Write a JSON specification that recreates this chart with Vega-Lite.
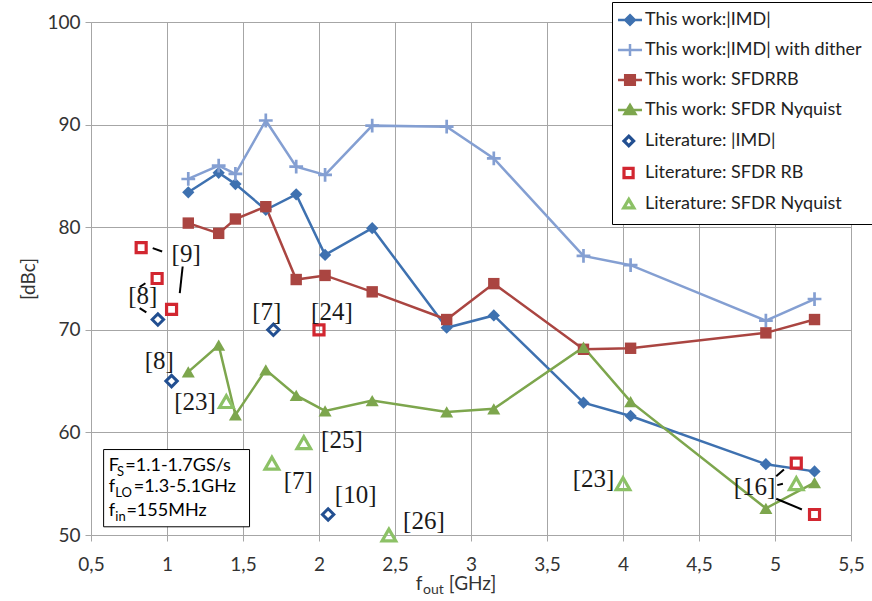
{
  "$schema": "https://vega.github.io/schema/vega-lite/v6.json",
  "width": 760,
  "height": 513,
  "autosize": {"type": "none"},
  "padding": {"left": 91, "top": 22, "right": 21, "bottom": 66},
  "background": "white",
  "config": {"view": {"stroke": null}, "font": "Lato"},
  "datasets": {
    "pts": [
      {"series": "This work:|IMD|", "fout": 1.14, "dbc": 83.4},
      {"series": "This work:|IMD|", "fout": 1.34, "dbc": 85.3},
      {"series": "This work:|IMD|", "fout": 1.45, "dbc": 84.2},
      {"series": "This work:|IMD|", "fout": 1.65, "dbc": 81.7},
      {"series": "This work:|IMD|", "fout": 1.85, "dbc": 83.2},
      {"series": "This work:|IMD|", "fout": 2.04, "dbc": 77.3},
      {"series": "This work:|IMD|", "fout": 2.35, "dbc": 79.9},
      {"series": "This work:|IMD|", "fout": 2.84, "dbc": 70.2},
      {"series": "This work:|IMD|", "fout": 3.15, "dbc": 71.4},
      {"series": "This work:|IMD|", "fout": 3.74, "dbc": 62.9},
      {"series": "This work:|IMD|", "fout": 4.05, "dbc": 61.6},
      {"series": "This work:|IMD|", "fout": 4.94, "dbc": 56.9},
      {"series": "This work:|IMD|", "fout": 5.26, "dbc": 56.2},
      {"series": "This work:|IMD| with dither", "fout": 1.14, "dbc": 84.7},
      {"series": "This work:|IMD| with dither", "fout": 1.34, "dbc": 86.0},
      {"series": "This work:|IMD| with dither", "fout": 1.45, "dbc": 85.2},
      {"series": "This work:|IMD| with dither", "fout": 1.65, "dbc": 90.4},
      {"series": "This work:|IMD| with dither", "fout": 1.85, "dbc": 85.9},
      {"series": "This work:|IMD| with dither", "fout": 2.04, "dbc": 85.1},
      {"series": "This work:|IMD| with dither", "fout": 2.35, "dbc": 89.9},
      {"series": "This work:|IMD| with dither", "fout": 2.84, "dbc": 89.8},
      {"series": "This work:|IMD| with dither", "fout": 3.15, "dbc": 86.7},
      {"series": "This work:|IMD| with dither", "fout": 3.74, "dbc": 77.2},
      {"series": "This work:|IMD| with dither", "fout": 4.05, "dbc": 76.3},
      {"series": "This work:|IMD| with dither", "fout": 4.94, "dbc": 70.9},
      {"series": "This work:|IMD| with dither", "fout": 5.26, "dbc": 73.0},
      {"series": "This work: SFDRRB", "fout": 1.14, "dbc": 80.4},
      {"series": "This work: SFDRRB", "fout": 1.34, "dbc": 79.4},
      {"series": "This work: SFDRRB", "fout": 1.45, "dbc": 80.8},
      {"series": "This work: SFDRRB", "fout": 1.65, "dbc": 82.0},
      {"series": "This work: SFDRRB", "fout": 1.85, "dbc": 74.9},
      {"series": "This work: SFDRRB", "fout": 2.04, "dbc": 75.3},
      {"series": "This work: SFDRRB", "fout": 2.35, "dbc": 73.7},
      {"series": "This work: SFDRRB", "fout": 2.84, "dbc": 71.0},
      {"series": "This work: SFDRRB", "fout": 3.15, "dbc": 74.5},
      {"series": "This work: SFDRRB", "fout": 3.74, "dbc": 68.1},
      {"series": "This work: SFDRRB", "fout": 4.05, "dbc": 68.2},
      {"series": "This work: SFDRRB", "fout": 4.94, "dbc": 69.7},
      {"series": "This work: SFDRRB", "fout": 5.26, "dbc": 71.0},
      {"series": "This work: SFDR Nyquist", "fout": 1.14, "dbc": 65.9},
      {"series": "This work: SFDR Nyquist", "fout": 1.34, "dbc": 68.5},
      {"series": "This work: SFDR Nyquist", "fout": 1.45, "dbc": 61.7},
      {"series": "This work: SFDR Nyquist", "fout": 1.65, "dbc": 66.1},
      {"series": "This work: SFDR Nyquist", "fout": 1.85, "dbc": 63.6},
      {"series": "This work: SFDR Nyquist", "fout": 2.04, "dbc": 62.1},
      {"series": "This work: SFDR Nyquist", "fout": 2.35, "dbc": 63.1},
      {"series": "This work: SFDR Nyquist", "fout": 2.84, "dbc": 62.0},
      {"series": "This work: SFDR Nyquist", "fout": 3.15, "dbc": 62.3},
      {"series": "This work: SFDR Nyquist", "fout": 3.74, "dbc": 68.3},
      {"series": "This work: SFDR Nyquist", "fout": 4.05, "dbc": 63.0},
      {"series": "This work: SFDR Nyquist", "fout": 4.94, "dbc": 52.6},
      {"series": "This work: SFDR Nyquist", "fout": 5.26, "dbc": 55.1},
      {"series": "Literature: |IMD|", "fout": 0.94, "dbc": 71.0},
      {"series": "Literature: |IMD|", "fout": 1.03, "dbc": 65.0},
      {"series": "Literature: |IMD|", "fout": 1.70, "dbc": 70.0},
      {"series": "Literature: |IMD|", "fout": 2.06, "dbc": 52.0},
      {"series": "Literature: SFDR RB", "fout": 0.83, "dbc": 78.0},
      {"series": "Literature: SFDR RB", "fout": 0.935, "dbc": 75.0},
      {"series": "Literature: SFDR RB", "fout": 1.03, "dbc": 72.0},
      {"series": "Literature: SFDR RB", "fout": 2.0, "dbc": 70.0},
      {"series": "Literature: SFDR RB", "fout": 5.14, "dbc": 57.0},
      {"series": "Literature: SFDR RB", "fout": 5.26, "dbc": 52.0},
      {"series": "Literature: SFDR Nyquist", "fout": 1.39, "dbc": 63.0},
      {"series": "Literature: SFDR Nyquist", "fout": 1.69, "dbc": 57.0},
      {"series": "Literature: SFDR Nyquist", "fout": 1.90, "dbc": 59.0},
      {"series": "Literature: SFDR Nyquist", "fout": 2.46, "dbc": 50.0},
      {"series": "Literature: SFDR Nyquist", "fout": 4.0, "dbc": 55.0},
      {"series": "Literature: SFDR Nyquist", "fout": 5.14, "dbc": 55.0}
    ],
    "refs": [
      {"label": "[9]", "fout": 1.126, "dbc": 77.39},
      {"label": "[8]", "fout": 0.841, "dbc": 73.34},
      {"label": "[7]", "fout": 1.656, "dbc": 71.71},
      {"label": "[24]", "fout": 2.085, "dbc": 71.71},
      {"label": "[8]", "fout": 0.949, "dbc": 67.0},
      {"label": "[23]", "fout": 1.185, "dbc": 62.95},
      {"label": "[25]", "fout": 2.151, "dbc": 59.22},
      {"label": "[7]", "fout": 1.864, "dbc": 55.28},
      {"label": "[10]", "fout": 2.241, "dbc": 53.85},
      {"label": "[26]", "fout": 2.69, "dbc": 51.38},
      {"label": "[23]", "fout": 3.806, "dbc": 55.5},
      {"label": "[16]", "fout": 4.865, "dbc": 54.67}
    ],
    "leaders": [
      {"fout": 0.906, "dbc": 77.96, "fout2": 0.968, "dbc2": 77.63},
      {"fout": 1.103, "dbc": 76.17, "fout2": 1.084, "dbc2": 73.58},
      {"fout": 0.82, "dbc": 72.12, "fout2": 0.864, "dbc2": 71.7},
      {"fout": 0.82, "dbc": 74.17, "fout2": 0.858, "dbc2": 74.54},
      {"fout": 5.008, "dbc": 55.73, "fout2": 5.059, "dbc2": 56.39},
      {"fout": 5.015, "dbc": 54.86, "fout2": 5.052, "dbc2": 54.99},
      {"fout": 5.008, "dbc": 53.53, "fout2": 5.177, "dbc2": 52.49}
    ],
    "box": [
      {"fout": 0.583, "dbc": 58.33, "fout2": 1.543, "dbc2": 50.8}
    ],
    "note": [
      {"text": "F", "kind": "main", "fout": 0.616, "dbc": 56.7},
      {"text": "S", "kind": "sub", "fout": 0.671, "dbc": 56.7},
      {"text": "=1.1-1.7GS/s", "kind": "main", "fout": 0.726, "dbc": 56.7},
      {"text": "f", "kind": "main", "fout": 0.616, "dbc": 54.63},
      {"text": "LO", "kind": "sub", "fout": 0.66, "dbc": 54.63},
      {"text": "=1.3-5.1GHz", "kind": "main", "fout": 0.781, "dbc": 54.63},
      {"text": "f", "kind": "main", "fout": 0.616, "dbc": 52.32},
      {"text": "in", "kind": "sub", "fout": 0.66, "dbc": 52.32},
      {"text": "=155MHz", "kind": "main", "fout": 0.733, "dbc": 52.32},
      {"text": "f", "kind": "xmain", "fout": 2.636, "dbc": 45.18},
      {"text": "out", "kind": "xsub", "fout": 2.685, "dbc": 45.18},
      {"text": "[GHz]", "kind": "xmain", "fout": 2.854, "dbc": 45.18}
    ]
  },
  "encoding": {
    "x": {
      "field": "fout",
      "type": "quantitative",
      "scale": {"domain": [0.5, 5.5], "nice": false, "zero": false},
      "axis": {
        "title": null,
        "values": [0.5, 1, 1.5, 2, 2.5, 3, 3.5, 4, 4.5, 5, 5.5],
        "labelExpr": "replace(toString(datum.value), '.', ',')",
        "grid": true,
        "gridColor": "#A6A6A6",
        "gridWidth": 1,
        "domainColor": "#A6A6A6",
        "tickColor": "#A6A6A6",
        "tickSize": 6,
        "labelPadding": 14,
        "labelFont": "Lato",
        "labelFontSize": 19,
        "labelColor": "#333333",
        "labelFlush": false,
        "labelOverlap": false
      }
    },
    "y": {
      "field": "dbc",
      "type": "quantitative",
      "scale": {"domain": [50, 100], "nice": false, "zero": false},
      "axis": {
        "title": "[dBc]",
        "values": [50, 60, 70, 80, 90, 100],
        "grid": true,
        "gridColor": "#A6A6A6",
        "gridWidth": 1,
        "domainColor": "#A6A6A6",
        "tickColor": "#A6A6A6",
        "tickSize": 6,
        "labelPadding": 5,
        "labelFont": "Lato",
        "labelFontSize": 19,
        "labelColor": "#333333",
        "titleFont": "Lato",
        "titleFontSize": 19,
        "titleFontWeight": "normal",
        "titleColor": "#333333",
        "titlePadding": 8
      }
    }
  },
  "layer": [
    {
      "data": {"name": "box"},
      "mark": {"type": "rect", "fill": "white", "stroke": "black", "strokeWidth": 1},
      "encoding": {"x2": {"field": "fout2"}, "y2": {"field": "dbc2"}}
    },
    {
      "data": {"name": "pts"},
      "transform": [{"filter": {"field": "series", "oneOf": ["This work:|IMD|", "This work:|IMD| with dither", "This work: SFDRRB", "This work: SFDR Nyquist"]}}],
      "mark": {"type": "line", "strokeWidth": 2.5},
      "encoding": {
        "stroke": {
          "field": "series",
          "type": "nominal",
          "scale": {
            "domain": ["This work:|IMD|", "This work:|IMD| with dither", "This work: SFDRRB", "This work: SFDR Nyquist", "Literature: |IMD|", "Literature: SFDR RB", "Literature: SFDR Nyquist"],
            "range": ["#3E71B0", "#849FD2", "#AA4541", "#7DA64D", "#224F91", "#D22630", "#8CC166"]
          },
          "legend": {
            "title": null,
            "orient": "none",
            "legendX": 521,
            "legendY": -20,
            "direction": "vertical",
            "strokeColor": "#000000",
            "fillColor": "white",
            "padding": 9,
            "symbolSize": 576,
            "rowPadding": 9,
            "labelOffset": 6,
            "labelFont": "Lato",
            "labelFontSize": 18,
            "labelColor": "#222222",
            "labelLimit": 320,
            "encode": {
              "symbols": {
                "update": {
                  "shape": {"signal": "datum.value == 'This work:|IMD|' ? 'M-1,0H1M0,-0.4L0.4,0L0,0.4L-0.4,0Z' : datum.value == 'This work:|IMD| with dither' ? 'M-1,0H1M0,-0.5V0.5' : datum.value == 'This work: SFDRRB' ? 'M-1,0H1M-0.4,-0.4H0.4V0.4H-0.4Z' : datum.value == 'This work: SFDR Nyquist' ? 'M-1,0H1M0,-0.42L0.46,0.34L-0.46,0.34Z' : datum.value == 'Literature: |IMD|' ? 'M-0.1,-0.4L0.3,0L-0.1,0.4L-0.5,0Z' : datum.value == 'Literature: SFDR RB' ? 'M-0.5,-0.38H0.26V0.38H-0.5Z' : 'M-0.1,-0.38L0.32,0.32L-0.52,0.32Z'"},
                  "fill": {"signal": "datum.value == 'This work:|IMD|' ? '#3E71B0' : datum.value == 'This work: SFDRRB' ? '#AA4541' : datum.value == 'This work: SFDR Nyquist' ? '#7DA64D' : 'transparent'"},
                  "strokeWidth": {"signal": "datum.value == 'Literature: |IMD|' || datum.value == 'Literature: SFDR RB' || datum.value == 'Literature: SFDR Nyquist' ? 3.2 : 2.5"},
                  "opacity": {"value": 1}
                }
              }
            }
          }
        }
      }
    },
    {
      "data": {"name": "pts"},
      "transform": [{"filter": "datum.series == 'This work:|IMD|'"}],
      "mark": {"type": "point", "shape": "diamond", "filled": true, "size": 150, "color": "#3E71B0", "opacity": 1}
    },
    {
      "data": {"name": "pts"},
      "transform": [{"filter": "datum.series == 'This work:|IMD| with dither'"}],
      "mark": {"type": "point", "shape": "M-1,0H1M0,-1V1", "filled": false, "size": 190, "color": "#849FD2", "strokeWidth": 2.7, "opacity": 1}
    },
    {
      "data": {"name": "pts"},
      "transform": [{"filter": "datum.series == 'This work: SFDRRB'"}],
      "mark": {"type": "point", "shape": "square", "filled": true, "size": 130, "color": "#AA4541", "opacity": 1}
    },
    {
      "data": {"name": "pts"},
      "transform": [{"filter": "datum.series == 'This work: SFDR Nyquist'"}],
      "mark": {"type": "point", "shape": "triangle-up", "filled": true, "size": 170, "color": "#7DA64D", "opacity": 1}
    },
    {
      "data": {"name": "pts"},
      "transform": [{"filter": "datum.series == 'Literature: |IMD|'"}],
      "mark": {"type": "point", "shape": "diamond", "filled": false, "size": 130, "color": "#224F91", "strokeWidth": 3, "opacity": 1}
    },
    {
      "data": {"name": "pts"},
      "transform": [{"filter": "datum.series == 'Literature: SFDR RB'"}],
      "mark": {"type": "point", "shape": "square", "filled": false, "size": 100, "color": "#D22630", "strokeWidth": 3.2, "opacity": 1}
    },
    {
      "data": {"name": "pts"},
      "transform": [{"filter": "datum.series == 'Literature: SFDR Nyquist'"}],
      "mark": {"type": "point", "shape": "triangle-up", "filled": false, "size": 185, "color": "#8CC166", "strokeWidth": 3.2, "opacity": 1}
    },
    {
      "data": {"name": "leaders"},
      "mark": {"type": "rule", "color": "black", "strokeWidth": 2},
      "encoding": {"x2": {"field": "fout2"}, "y2": {"field": "dbc2"}}
    },
    {
      "data": {"name": "refs"},
      "mark": {"type": "text", "font": "Liberation Serif", "fontSize": 25, "color": "#1A1A1A", "align": "center", "baseline": "middle"},
      "encoding": {"text": {"field": "label"}}
    },
    {
      "data": {"name": "note"},
      "transform": [{"filter": "datum.kind == 'main'"}],
      "mark": {"type": "text", "font": "Lato", "fontSize": 18, "color": "black", "align": "left", "baseline": "middle"},
      "encoding": {"text": {"field": "text"}}
    },
    {
      "data": {"name": "note"},
      "transform": [{"filter": "datum.kind == 'sub'"}],
      "mark": {"type": "text", "font": "Lato", "fontSize": 13, "color": "black", "align": "left", "baseline": "middle", "dy": 6},
      "encoding": {"text": {"field": "text"}}
    },
    {
      "data": {"name": "note"},
      "transform": [{"filter": "datum.kind == 'xmain'"}],
      "mark": {"type": "text", "font": "Lato", "fontSize": 19, "color": "#333333", "align": "left", "baseline": "middle"},
      "encoding": {"text": {"field": "text"}}
    },
    {
      "data": {"name": "note"},
      "transform": [{"filter": "datum.kind == 'xsub'"}],
      "mark": {"type": "text", "font": "Lato", "fontSize": 14, "color": "#333333", "align": "left", "baseline": "middle", "dy": 6},
      "encoding": {"text": {"field": "text"}}
    }
  ]
}
